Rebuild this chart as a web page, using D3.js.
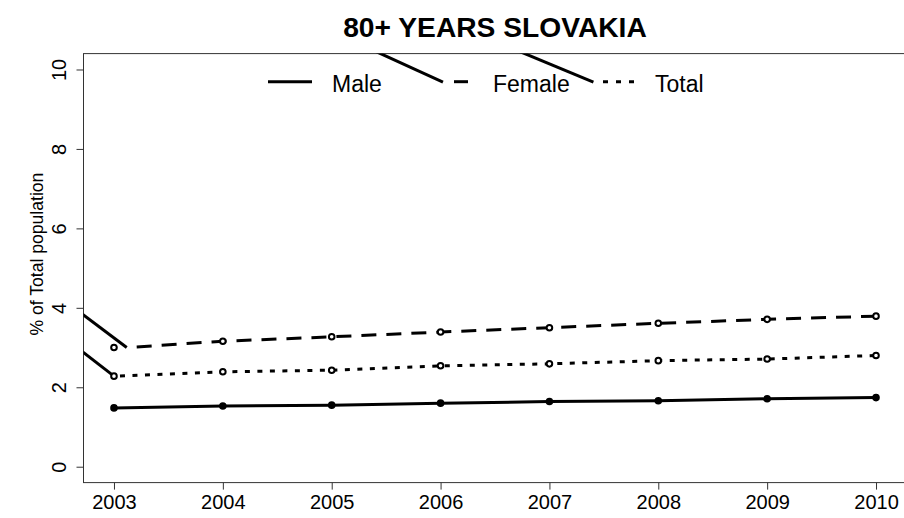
<!DOCTYPE html>
<html>
<head>
<meta charset="utf-8">
<script src="https://cdn.jsdelivr.net/npm/d3@7"></script>
<style>
  html, body { margin: 0; padding: 0; background: #fff; }
  svg { display: block; }
  text { font-family: "Liberation Sans", Arial, Helvetica, sans-serif; fill: #000; }
</style>
</head>
<body>
<svg id="chart" width="904" height="518"></svg>
<script>
// ---- data ----
const years = [2003, 2004, 2005, 2006, 2007, 2008, 2009, 2010];
const male   = [1.48, 1.53, 1.55, 1.60, 1.64, 1.66, 1.71, 1.74];
const female = [3.00, 3.16, 3.27, 3.39, 3.50, 3.61, 3.71, 3.79];
const total  = [2.28, 2.39, 2.43, 2.54, 2.59, 2.67, 2.71, 2.80];
const yTicks = [0, 2, 4, 6, 8, 10];
const seriesNames = ["Male", "Female", "Total"];
// stray line segments visible in the original picture (data coordinates)
const strayFemale = [[2002.60, 4.07], [2003.117, 3.00]];
const strayTotal  = [[2002.60, 3.13], [2003.0, 2.28]];
const strayLegendFemale = [[2005.40, 10.46], [2006.022, 9.683]];
const strayLegendTotal  = [[2006.72, 10.46], [2007.404, 9.683]];
const femaleStart = [2003.117, 3.00];

// ---- layout ----
const pL = 83.5, pR = 906.5, pT = 53.6, pB = 482.6;

const svg = d3.select("#chart");

const x = d3.scaleLinear()
  .domain([years[0] - 0.04 * (years[7] - years[0]), years[7] + 0.04 * (years[7] - years[0])])
  .range([pL, pR]);
const y = d3.scaleLinear().domain([-0.4, 10.4]).range([pB, pT]);

// clip
svg.append("defs").append("clipPath").attr("id", "plotclip")
  .append("rect").attr("x", pL).attr("y", pT).attr("width", pR - pL).attr("height", pB - pT);

// frame
svg.append("rect")
  .attr("x", pL).attr("y", pT).attr("width", pR - pL).attr("height", pB - pT)
  .attr("fill", "none").attr("stroke", "#333").attr("stroke-width", 1);

// x axis
const xAxis = d3.axisBottom(x).tickValues(years).tickFormat(d3.format("d")).tickSizeOuter(0).tickSize(7).tickPadding(4);
const gx = svg.append("g").attr("transform", `translate(0,${pB})`).call(xAxis);
gx.select(".domain").remove();
gx.selectAll("line").attr("stroke", "#333");
gx.selectAll("text").attr("font-size", "20px").attr("dy", "0.78em")
  .style("font-family", "'Liberation Sans', Arial, sans-serif").attr("fill", "#000");

// y axis
const yAxis = d3.axisLeft(y).tickValues(yTicks).tickSizeOuter(0).tickSize(7).tickPadding(0);
const gy = svg.append("g").attr("transform", `translate(${pL},0)`).call(yAxis);
gy.select(".domain").remove();
gy.selectAll("line").attr("stroke", "#333");
gy.selectAll("text")
  .attr("font-size", "20px")
  .style("font-family", "'Liberation Sans', Arial, sans-serif")
  .attr("fill", "#000")
  .attr("x", null).attr("dy", null)
  .attr("text-anchor", "middle")
  .attr("transform", "translate(-18,0) rotate(-90)");

// y label
svg.append("text")
  .attr("transform", `translate(43,${(pT + pB) / 2 - 14}) rotate(-90)`)
  .attr("text-anchor", "middle")
  .attr("font-size", "17.6px")
  .text("% of Total population");

// title
svg.append("text")
  .attr("x", (pL + pR) / 2).attr("y", 36.5)
  .attr("text-anchor", "middle")
  .attr("font-size", "28.2px").attr("font-weight", "bold")
  .text("80+ YEARS SLOVAKIA");

const plot = svg.append("g").attr("clip-path", "url(#plotclip)");
const line = d3.line().x(d => x(d[0])).y(d => y(d[1]));

// stray segments
[strayFemale, strayTotal, strayLegendFemale, strayLegendTotal].forEach(s => {
  plot.append("path").attr("d", line(s)).attr("fill", "none")
    .attr("stroke", "#000").attr("stroke-width", 3);
});

// series lines
const malePts = years.map((yr, i) => [yr, male[i]]);
const femalePts = years.map((yr, i) => [yr, female[i]]);
const totalPts = years.map((yr, i) => [yr, total[i]]);

plot.append("path").attr("d", line(malePts)).attr("fill", "none")
  .attr("stroke", "#000").attr("stroke-width", 3);
plot.append("path").attr("d", line([femaleStart].concat(femalePts.slice(1)))).attr("fill", "none")
  .attr("stroke", "#000").attr("stroke-width", 3)
  .attr("stroke-dasharray", "15 10").attr("stroke-dashoffset", 15);
plot.append("path").attr("d", line(totalPts)).attr("fill", "none")
  .attr("stroke", "#000").attr("stroke-width", 3)
  .attr("stroke-dasharray", "5 7.5").attr("stroke-dashoffset", -6);

// points
function pts(data, fill) {
  plot.selectAll(null).data(data).enter().append("circle")
    .attr("cx", d => x(d[0])).attr("cy", d => y(d[1])).attr("r", 2.8)
    .attr("fill", fill).attr("stroke", "#000").attr("stroke-width", 2);
}
pts(femalePts, "#fff");
pts(totalPts, "#fff");
pts(malePts, "#000");

// legend
const ly = 81.7;
const legend = svg.append("g");
const legendItems = [
  {name: seriesNames[0], x1: 268, x2: 312, dash: null, tx: 332},
  {name: seriesNames[1], x1: 454, x2: 468, dash: null, tx: 493},
  {name: seriesNames[2], x1: 603, x2: 636, dash: "5 8", tx: 655}
];
legendItems.forEach(it => {
  legend.append("line").attr("x1", it.x1).attr("x2", it.x2).attr("y1", ly).attr("y2", ly)
    .attr("stroke", "#000").attr("stroke-width", 3)
    .attr("stroke-dasharray", it.dash);
  legend.append("text").attr("x", it.tx).attr("y", ly + 10)
    .attr("font-size", "23px").text(it.name);
});
</script>
</body>
</html>
